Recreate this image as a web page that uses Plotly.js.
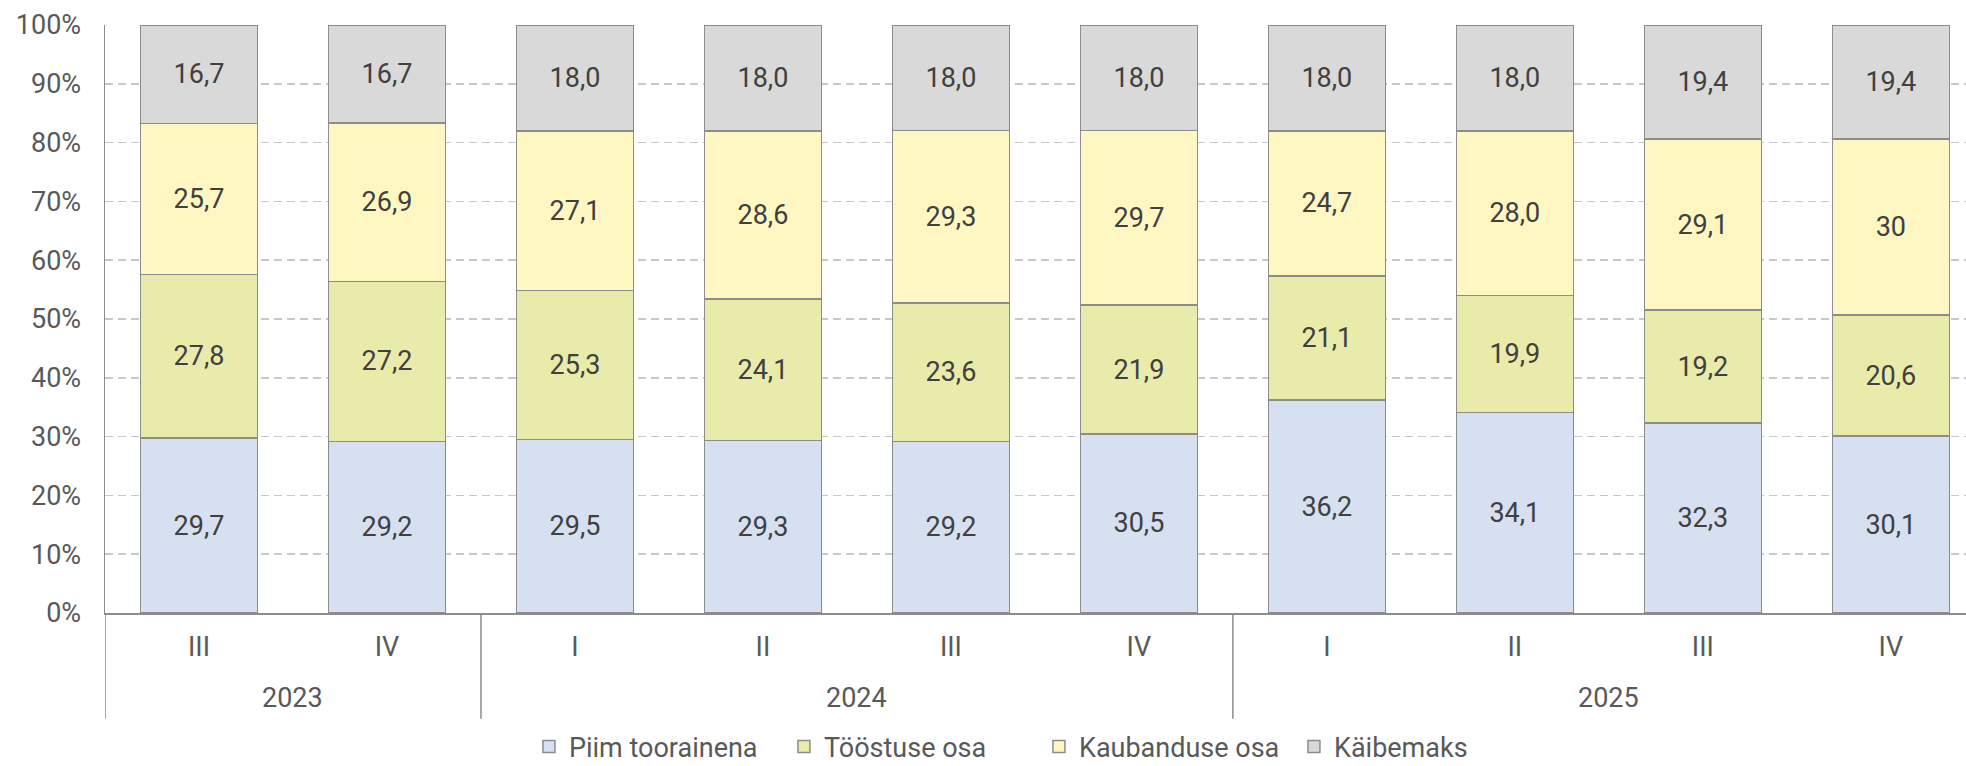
<!DOCTYPE html>
<html>
<head>
<meta charset="utf-8">
<script src="https://cdn.plot.ly/plotly-3.0.1.min.js"></script>
<style>html,body{margin:0;padding:0;background:#fff;}#chart{width:1966px;height:766px;}</style>
</head>
<body>
<div id="chart"></div>
<script>
// Categories
const years = ["2023","2023","2024","2024","2024","2024","2025","2025","2025","2025"];
const quarters = ["III","IV","I","II","III","IV","I","II","III","IV"];

// Series values (as printed in the chart, decimal comma)
const piimToorainena = ["29,7","29,2","29,5","29,3","29,2","30,5","36,2","34,1","32,3","30,1"];
const toostuseOsa    = ["27,8","27,2","25,3","24,1","23,6","21,9","21,1","19,9","19,2","20,6"];
const kaubanduseOsa  = ["25,7","26,9","27,1","28,6","29,3","29,7","24,7","28,0","29,1","30"];
const kaibemaks      = ["16,7","16,7","18,0","18,0","18,0","18,0","18,0","18,0","19,4","19,4"];

const seriesNames = ["Piim toorainena","Tööstuse osa","Kaubanduse osa","Käibemaks"];
const seriesValues = [piimToorainena, toostuseOsa, kaubanduseOsa, kaibemaks];
const seriesColors = ["#D6E0F1","#E9EBAB","#FFF7C2","#D9D9D9"];

const FONT = "Roboto, 'Noto Sans', sans-serif";
const TICK_COLOR = "#595959";
const LINE_COLOR = "#8C8C8C";

// unique category keys (year + quarter), shown with the quarter as tick text
const catKeys = years.map((y, i) => y + " " + quarters[i]);

const traces = seriesNames.map((name, i) => ({
  type: "bar",
  name: name,
  x: catKeys,
  y: seriesValues[i].map(s => parseFloat(s.replace(",", "."))),
  text: seriesValues[i],
  textposition: "inside",
  insidetextanchor: "middle",
  textangle: 0,
  constraintext: "none",
  textfont: {family: FONT, size: 27, color: "#404040"},
  marker: {color: seriesColors[i], line: {color: LINE_COLOR, width: 1.5}},
  hoverinfo: "skip"
}));

// year groups: start/end index of each year
const groups = [];
years.forEach((y, i) => {
  const g = groups[groups.length - 1];
  if (g && g.year === y) g.end = i; else groups.push({year: y, start: i, end: i});
});

const yearAnnotations = groups.map(g => ({
  x: (g.start + g.end) / 2, xref: "x",
  y: -0.145, yref: "paper", yanchor: "middle",
  text: g.year, showarrow: false,
  font: {family: FONT, size: 27, color: TICK_COLOR}
}));

const dividerShapes = groups.map(g => g.start - 0.5).concat([groups[groups.length - 1].end + 0.5])
  .map(xv => ({
    type: "line", xref: "x", yref: "paper",
    x0: xv, x1: xv, y0: 0, y1: -0.18,
    line: {color: LINE_COLOR, width: 1.5}
  }));

const layout = {
  width: 1966, height: 766,
  margin: {l: 105, r: 0, t: 25, b: 153, pad: 0, autoexpand: false},
  paper_bgcolor: "#ffffff",
  plot_bgcolor: "#ffffff",
  font: {family: FONT, size: 27, color: TICK_COLOR},
  barmode: "stack",
  barnorm: "percent",
  bargap: 0.378,
  showlegend: true,
  legend: {
    orientation: "h",
    x: 0.2278, xanchor: "left",
    y: -0.228, yanchor: "middle",
    traceorder: "normal",
    font: {family: FONT, size: 27, color: TICK_COLOR},
    itemwidth: 30,
    entrywidth: 210,
    itemclick: false
  },
  xaxis: {
    type: "category",
    range: [-0.5, 9.4],
    tickvals: catKeys,
    ticktext: quarters,
    showline: true, linecolor: LINE_COLOR, linewidth: 2,
    showgrid: false, zeroline: false,
    ticks: "",
    ticklabelstandoff: 9,
    tickfont: {family: FONT, size: 27, color: TICK_COLOR}
  },
  yaxis: {
    range: [0, 100],
    dtick: 10, tick0: 0,
    ticksuffix: "%",
    showline: true, linecolor: LINE_COLOR, linewidth: 1.5,
    showgrid: true, gridcolor: "#C8C8C8", gridwidth: 1.5, griddash: "8px,5px",
    zeroline: false,
    ticks: "",
    ticklabelstandoff: 17,
    tickfont: {family: FONT, size: 27, color: TICK_COLOR}
  },
  annotations: yearAnnotations,
  shapes: dividerShapes
};

Plotly.newPlot("chart", traces, layout, {staticPlot: true, displayModeBar: false});
</script>
</body>
</html>
